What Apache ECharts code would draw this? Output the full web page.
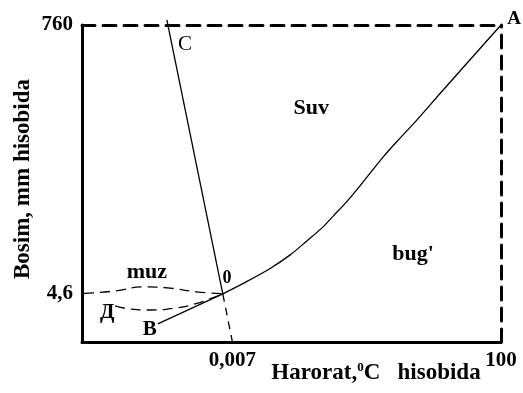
<!DOCTYPE html>
<html>
<head>
<meta charset="utf-8">
<script src="https://cdn.jsdelivr.net/npm/echarts@6/dist/echarts.min.js"></script>
<style>
  html, body { margin: 0; padding: 0; background: #fff; }
  #chart { width: 523px; height: 393px; }
</style>
</head>
<body>
<div id="chart"></div>
<script>
// Schematic phase diagram of water; both axes use diagram units 0..100.
const tempTickPos = [35.9, 100];
const tempTickText = ['0,007', '100'];
const presTickPos = [15.2, 100];
const presTickText = ['4,6', '760'];

// O–A: liquid / vapour boundary
const vapourCurve = [[33.6, 15.2], [38.5, 18.5], [44.9, 23.2], [49.6, 27.4], [53.6, 31.8],
  [57.6, 36.4], [60.0, 39.8], [63.2, 44.3], [67.1, 50.5], [71.9, 58.4], [75.9, 64.3],
  [79.9, 70.0], [86.2, 79.5], [100, 100]];
// C–O: melting line and its dashed continuation to the temperature axis
const meltLine = [[20.25, 101.6], [33.6, 15.2]];
const meltExtension = [[33.6, 15.2], [35.9, 0]];
// B–O: sublimation line
const sublimationLine = [[18.1, 5.7], [33.6, 15.2]];
// dashed curves bounding the ice region
const iceUpper = [[0.5, 15.3], [7.9, 16.1], [14.6, 17.4], [21.0, 17.0], [27.4, 15.8], [33.6, 15.2]];
const iceLower = [[7.9, 11.4], [11.5, 10.4], [16.2, 10.1], [22.2, 10.7], [27.0, 12.0], [30.5, 13.6], [33.6, 15.2]];

// region and point names: [x, y, text, fontSize, weight]
const regionLabels = [
  [54.7, 73.8, 'Suv', 22, 'bold'],
  [79.0, 27.8, "bug'", 22, 'bold'],
  [15.5, 22.1, 'muz', 22, 'bold'],
  [34.6, 20.2, '0', 18, 'bold'],
  [24.6, 93.7, 'C', 21, 'normal'],
  [103.1, 102.0, 'A', 19, 'bold'],
  [16.2, 3.8, 'B', 21, 'bold'],
  [6.0, 9.3, 'Д', 21, 'bold']
];

const FONT = 'Liberation Serif';
const thin = { color: '#000', width: 1.3 };
const dashedBorder = { color: '#000', width: 3, type: [13, 8] };

function tickText(pos, text) {
  return function (v) {
    for (let i = 0; i < pos.length; i++) {
      if (Math.abs(pos[i] - v) < 1e-6) return text[i];
    }
    return '';
  };
}

const chart = echarts.init(document.getElementById('chart'));
chart.setOption({
  animation: false,
  backgroundColor: '#fff',
  grid: { left: 82, top: 25, width: 419, height: 317, containLabel: false },
  xAxis: [{
    type: 'value', min: 0, max: 100, position: 'bottom',
    splitLine: { show: false },
    axisTick: { show: false },
    axisLine: { show: true, onZero: false, lineStyle: { color: '#000', width: 3 } },
    axisLabel: {
      customValues: tempTickPos, formatter: tickText(tempTickPos, tempTickText),
      color: '#000', fontFamily: FONT, fontWeight: 'bold', fontSize: 21, margin: 8,
      showMinLabel: true, showMaxLabel: true
    }
  }, {
    type: 'value', min: 0, max: 100, position: 'top',
    splitLine: { show: false }, axisTick: { show: false }, axisLabel: { show: false },
    axisLine: { show: true, onZero: false, lineStyle: dashedBorder }
  }],
  yAxis: [{
    type: 'value', min: 0, max: 100, position: 'left',
    splitLine: { show: false },
    axisTick: { show: false },
    axisLine: { show: true, onZero: false, lineStyle: { color: '#000', width: 3 } },
    axisLabel: {
      customValues: presTickPos, formatter: tickText(presTickPos, presTickText),
      color: '#000', fontFamily: FONT, fontWeight: 'bold', fontSize: 21, margin: 9,
      showMinLabel: true, showMaxLabel: true
    }
  }, {
    type: 'value', min: 0, max: 100, position: 'right',
    splitLine: { show: false }, axisTick: { show: false }, axisLabel: { show: false },
    axisLine: { show: true, onZero: false, lineStyle: dashedBorder }
  }],
  series: [
    { type: 'line', data: vapourCurve, symbol: 'none', smooth: 0.35, lineStyle: thin, clip: false },
    { type: 'line', data: meltLine, symbol: 'none', lineStyle: thin, clip: false },
    { type: 'line', data: meltExtension, symbol: 'none', lineStyle: { color: '#000', width: 1.3, type: [8, 6] } },
    { type: 'line', data: sublimationLine, symbol: 'none', lineStyle: thin },
    { type: 'line', data: iceUpper, symbol: 'none', smooth: 0.5, lineStyle: { color: '#000', width: 1.3, type: [10, 6] } },
    { type: 'line', data: iceLower, symbol: 'none', smooth: 0.5, lineStyle: { color: '#000', width: 1.3, type: [10, 6] } },
    {
      type: 'scatter', symbolSize: 0, clip: false, silent: true,
      itemStyle: { opacity: 1 },
      data: regionLabels.map(d => ({
        value: [d[0], d[1]],
        label: {
          show: true, position: [0, 0], align: 'center', verticalAlign: 'middle',
          formatter: d[2], color: '#000', fontFamily: FONT, fontSize: d[3], fontWeight: d[4]
        }
      }))
    }
  ],
  graphic: [{
    type: 'text', x: 376, y: 373,
    style: {
      text: '{a|Harorat,}{s|0}{a|C   hisobida}',
      align: 'center', verticalAlign: 'middle',
      rich: {
        a: { fontFamily: FONT, fontWeight: 'bold', fontSize: 23, fill: '#000' },
        s: { fontFamily: FONT, fontWeight: 'bold', fontSize: 13, fill: '#000', verticalAlign: 'top' }
      }
    }
  }, {
    type: 'text', x: 23, y: 179, rotation: Math.PI / 2,
    style: {
      text: 'Bosim, mm hisobida',
      align: 'center', verticalAlign: 'middle',
      fontFamily: FONT, fontWeight: 'bold', fontSize: 23, fill: '#000'
    }
  }]
});
</script>
</body>
</html>
